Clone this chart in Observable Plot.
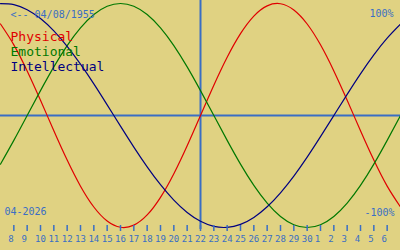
<!DOCTYPE html>
<html>
<head>
<meta charset="utf-8">
<script src="https://cdn.jsdelivr.net/npm/d3@7"></script>
<script src="https://cdn.jsdelivr.net/npm/@observablehq/plot@0.6"></script>
<style>
  html, body { margin: 0; padding: 0; background: #e0d282; }
  #chart svg { display: block; }
</style>
</head>
<body>
<div id="chart"></div>
<script>
// Days shown: 7 April 2026 .. 7 May 2026 (day of month)
const dayOfMonth = [7,8,9,10,11,12,13,14,15,16,17,18,19,20,21,22,23,24,25,26,27,28,29,30,1,2,3,4,5,6,7];
const todayIndex = 15; // 22 April
const tickIndex = [1,2,3,4,5,6,7,8,9,10,11,12,13,14,15,16,17,18,19,20,21,22,23,24,25,26,27,28,29];

const physical = [0.817,0.631,0.398,0.136,-0.136,-0.398,-0.631,-0.817,-0.942,-0.998,-0.979,-0.888,-0.731,-0.520,-0.270,0,0.270,0.520,0.731,0.888,0.979,0.998,0.942,0.817,0.631,0.398,0.136,-0.136,-0.398,-0.631,-0.817];
const emotional = [-0.434,-0.222,0,0.222,0.434,0.624,0.782,0.901,0.975,1.0,0.975,0.901,0.782,0.624,0.434,0.222,0,-0.222,-0.434,-0.624,-0.782,-0.901,-0.975,-1.0,-0.975,-0.901,-0.782,-0.624,-0.434,-0.222,0];
const intellectual = [0.999,0.990,0.945,0.866,0.756,0.618,0.458,0.282,0.095,-0.095,-0.282,-0.458,-0.618,-0.756,-0.866,-0.945,-0.990,-0.999,-0.972,-0.910,-0.815,-0.690,-0.541,-0.372,-0.189,0,0.189,0.372,0.541,0.690,0.815];

const seriesNames = ["Physical", "Emotional", "Intellectual"];
const seriesColors = ["#e00000", "#007800", "#000080"];
const birthLabel = "<-- 04/08/1955";
const monthLabel = "04-2026";
const topLabel = "100%";
const bottomLabel = "-100%";

const BLUE = "#3a6ec4";
const BG = "#e0d282";
const MONO = "'DejaVu Sans Mono', 'Liberation Mono', monospace";

const idx = dayOfMonth.map((d, i) => i);
const lineData = (vals) => idx.map(i => ({x: i, v: vals[i]}));

const singleTicks = tickIndex.filter(i => dayOfMonth[i] < 10);
const doubleTicks = tickIndex.filter(i => dayOfMonth[i] >= 10);

const chart = Plot.plot({
  width: 400,
  height: 250,
  marginTop: 3,
  marginBottom: 25,
  marginLeft: 0,
  marginRight: 0,
  style: {background: BG, fontFamily: MONO, overflow: "visible"},
  x: {domain: [0, dayOfMonth.length - 1], range: [0, 400], axis: null},
  y: {domain: [-1, 1], range: [227, 3], axis: null},
  marks: [
    Plot.ruleY([0], {stroke: BLUE, strokeWidth: 2}),
    Plot.ruleX([todayIndex], {stroke: BLUE, strokeWidth: 2, insetTop: -3, insetBottom: -4}),
    Plot.line(lineData(physical), {x: "x", y: "v", stroke: seriesColors[0], strokeWidth: 1.2, curve: "natural"}),
    Plot.line(lineData(emotional), {x: "x", y: "v", stroke: seriesColors[1], strokeWidth: 1.2, curve: "natural"}),
    Plot.line(lineData(intellectual), {x: "x", y: "v", stroke: seriesColors[2], strokeWidth: 1.2, curve: "natural"}),
    Plot.axisX({anchor: "bottom", ticks: tickIndex, tickSize: 6, tickFormat: () => "", stroke: BLUE, strokeWidth: 1.5, label: null}),
    Plot.axisX({anchor: "bottom", ticks: doubleTicks, tickSize: 0, tickPadding: 10, tickFormat: i => String(dayOfMonth[i]), fill: BLUE, fontSize: 9, label: null}),
    Plot.axisX({anchor: "bottom", ticks: singleTicks, tickSize: 0, tickPadding: 10, tickFormat: i => String(dayOfMonth[i]), fill: BLUE, fontSize: 9, dx: -3, label: null}),
    Plot.text([birthLabel], {frameAnchor: "top-left", textAnchor: "start", lineAnchor: "bottom", dx: 10, dy: 14, fill: BLUE, fontSize: 10, fontFamily: MONO}),
    Plot.text([topLabel], {frameAnchor: "top-right", textAnchor: "end", lineAnchor: "bottom", dx: -7, dy: 13, fill: BLUE, fontSize: 10, fontFamily: MONO}),
    Plot.text([bottomLabel], {frameAnchor: "bottom-right", textAnchor: "end", lineAnchor: "bottom", dx: -6, dy: -10, fill: BLUE, fontSize: 10, fontFamily: MONO}),
    Plot.text([monthLabel], {frameAnchor: "bottom-left", textAnchor: "start", lineAnchor: "bottom", dx: 4, dy: -11, fill: BLUE, fontSize: 10, fontFamily: MONO}),
    Plot.text(seriesNames, {frameAnchor: "top-left", textAnchor: "start", lineAnchor: "bottom", dx: 10, dy: (d, i) => 0, fill: (d, i) => seriesColors[i], fontSize: 13, fontFamily: MONO, filter: (d, i) => i === 0, dy: 37}),
    Plot.text(seriesNames, {frameAnchor: "top-left", textAnchor: "start", lineAnchor: "bottom", dx: 10, fill: seriesColors[1], fontSize: 13, fontFamily: MONO, filter: (d, i) => i === 1, dy: 52}),
    Plot.text(seriesNames, {frameAnchor: "top-left", textAnchor: "start", lineAnchor: "bottom", dx: 10, fill: seriesColors[2], fontSize: 13, fontFamily: MONO, filter: (d, i) => i === 2, dy: 67})
  ]
});
document.getElementById("chart").appendChild(chart);
</script>
</body>
</html>
